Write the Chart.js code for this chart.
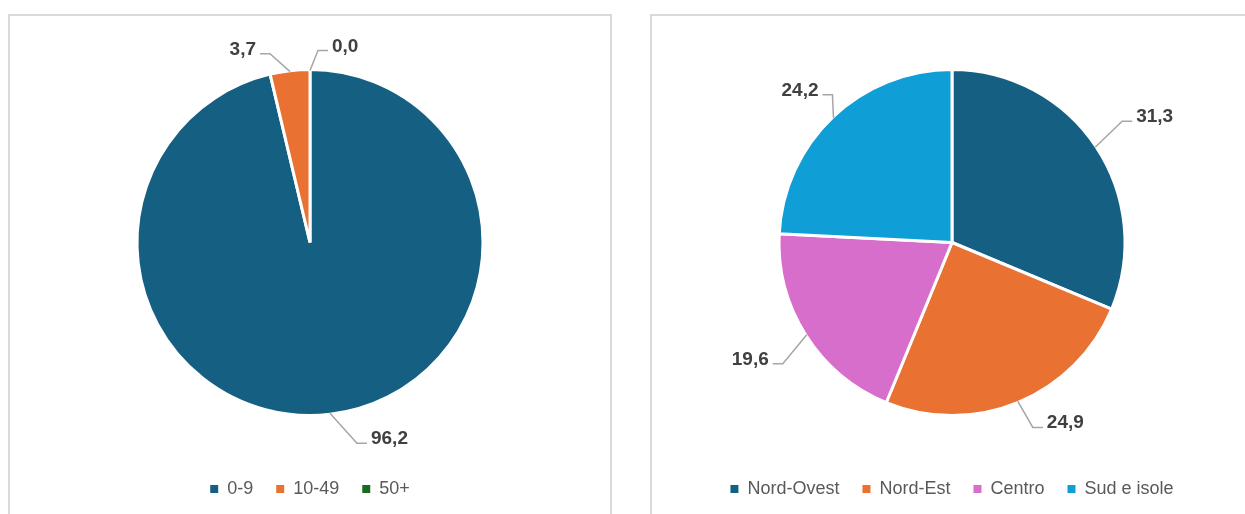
<!DOCTYPE html>
<html>
<head>
<meta charset="utf-8">
<script src="https://cdn.jsdelivr.net/npm/chart.js@4.4.1/dist/chart.umd.min.js"></script>
<style>
  html, body { margin:0; padding:0; background:#fff; width:1245px; height:514px; overflow:hidden; }
  .panel { position:absolute; top:14px; width:604px; height:540px; box-sizing:border-box; border:2px solid #d9d9d9; }
  #p1 { left:8px; }
  #p2 { left:650px; }
  canvas { position:absolute; }
  #c1 { left:10px; top:16px; }
  #c2 { left:652px; top:16px; }
</style>
</head>
<body>
<div class="panel" id="p1"></div>
<div class="panel" id="p2"></div>
<canvas id="c1" width="600" height="498"></canvas>
<canvas id="c2" width="600" height="498"></canvas>
<script>
// classi di addetti
const sizeLabels = ["0-9", "10-49", "50+"];
const sizeValues = [96.2, 3.7, 0.0];
const sizeColors = ["#156082", "#E97132", "#196B24"];

// ripartizione geografica
const areaLabels = ["Nord-Ovest", "Nord-Est", "Centro", "Sud e isole"];
const areaValues = [31.3, 24.9, 19.6, 24.2];
const areaColors = ["#156082", "#E97132", "#D86ECC", "#0F9ED5"];

// gomito della linea guida rispetto al bordo della fetta (px)
const sizeLeaders = [[27, 30], [-20, -18], [8, -20]];
const areaLeaders = [[27, -26], [15, 26], [-24, 29], [-1, -23]];

const FONT = "'Liberation Sans', Arial, sans-serif";
const el = (id) => document.getElementById(id);
const fmt = (v) => v.toFixed(1).replace(".", ",");

// etichette con linee guida stile Excel
const leaderLabels = {
  id: "leaderLabels",
  afterDatasetsDraw(chart, args, opts){
    const ctx = chart.ctx;
    const meta = chart.getDatasetMeta(0);
    const values = chart.data.datasets[0].data;
    ctx.save();
    meta.data.forEach((arc, i) => {
      const p = arc.getProps(["x", "y", "startAngle", "endAngle", "outerRadius"], true);
      const mid = (p.startAngle + p.endAngle) / 2;
      const r = p.outerRadius - 1;
      const ex = p.x + Math.cos(mid) * r;
      const ey = p.y + Math.sin(mid) * r;
      const off = opts.offsets[i];
      const bx = ex + off[0], by = ey + off[1];
      const left = bx < p.x;
      const hx = left ? bx - 10 : bx + 10;

      ctx.strokeStyle = "#a6a6a6";
      ctx.lineWidth = 1.5;
      ctx.beginPath();
      ctx.moveTo(ex, ey);
      ctx.lineTo(bx, by);
      ctx.lineTo(hx, by);
      ctx.stroke();

      ctx.fillStyle = "#404040";
      ctx.font = "bold 19px " + FONT;
      ctx.textBaseline = "alphabetic";
      ctx.textAlign = left ? "right" : "left";
      ctx.fillText(fmt(values[i]), left ? hx - 4 : hx + 4, by + 1);
    });
    ctx.restore();
  }
};

function makePie(id, labels, values, colors, offsets){
  return new Chart(el(id).getContext("2d"), {
    type: "pie",
    data: {
      labels: labels,
      datasets: [{
        data: values,
        backgroundColor: colors,
        borderColor: "#ffffff",
        borderWidth: 3,
        hoverOffset: 0,
        radius: 173
      }]
    },
    plugins: [leaderLabels],
    options: {
      responsive: false,
      animation: false,
      events: [],
      layout: { padding: { top: 12, bottom: 6 } },
      plugins: {
        tooltip: { enabled: false },
        leaderLabels: { offsets: offsets },
        legend: {
          position: "bottom",
          labels: {
            boxWidth: 8,
            boxHeight: 8,
            padding: 23,
            color: "#595959",
            font: { family: FONT, size: 18 },
            generateLabels(chart){
              const items = Chart.overrides.pie.plugins.legend.labels.generateLabels(chart);
              items.forEach(it => { it.strokeStyle = it.fillStyle; it.lineWidth = 0; });
              return items;
            }
          }
        }
      }
    }
  });
}

makePie("c1", sizeLabels, sizeValues, sizeColors, sizeLeaders);
makePie("c2", areaLabels, areaValues, areaColors, areaLeaders);
</script>
</body>
</html>
